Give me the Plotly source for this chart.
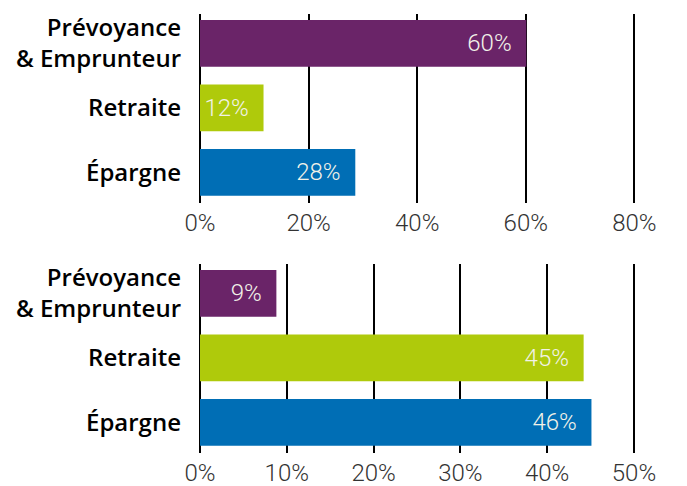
import plotly.graph_objects as go
from plotly.subplots import make_subplots

categories = ["Épargne", "Retraite", "Prévoyance<br>& Emprunteur"]
colors = ["#006EB5", "#AFCA0B", "#6A2468"]

top_values = [28.6, 11.7, 60.1]
top_labels = ["28%", "12%", "60%"]
top_ticks = [0, 20, 40, 60, 80]

bottom_values = [45.1, 44.2, 8.8]
bottom_labels = ["46%", "45%", "9%"]
bottom_ticks = [0, 10, 20, 30, 40, 50]

NB = "\u00a0\u00a0"

fig = make_subplots(rows=2, cols=1, vertical_spacing=0.0)

for row, vals, labs in [(1, top_values, top_labels), (2, bottom_values, bottom_labels)]:
    fig.add_trace(go.Bar(
        x=vals, y=categories, orientation="h",
        marker=dict(color=colors, line=dict(width=0)),
        text=[l + NB for l in labs],
        textposition="inside", insidetextanchor="end",
        textfont=dict(family="Roboto", size=24, color="#F2F2E8", weight=300),
        cliponaxis=False, hoverinfo="skip",
    ), row=row, col=1)

grid = dict(showgrid=True, gridcolor="#000000", gridwidth=2,
            zeroline=True, zerolinecolor="#000000", zerolinewidth=2,
            showline=False, ticks="",
            tickfont=dict(family="Roboto", size=24, color="#333333", weight=300),
            ticklabelstandoff=3)

ytick = dict(showgrid=False, zeroline=False, ticks="", ticklabelstandoff=18,
             categoryorder="array", categoryarray=categories,
             range=[-0.476, 2.456],
             tickfont=dict(family="Open Sans", size=24, color="#000000", weight=600))

# page body adds an 8px offset, so the figure is sized to fit the window
fig.update_layout(
    width=679, height=478,
    margin=dict(l=192, r=42, t=6, b=33, autoexpand=False),
    paper_bgcolor="white", plot_bgcolor="white",
    showlegend=False, bargap=0.274,
    uniformtext=dict(minsize=24, mode="show"),
    font=dict(family="Roboto"),
    xaxis=dict(range=[0, 81.95], tickvals=top_ticks, ticktext=[f"{v}%" for v in top_ticks],
               domain=[0, 1], anchor="y", **grid),
    xaxis2=dict(range=[0, 51.27], tickvals=bottom_ticks, ticktext=[f"{v}%" for v in bottom_ticks],
                domain=[0, 1], anchor="y2", **grid),
    yaxis=dict(domain=[0.5695, 1.0], **ytick),
    yaxis2=dict(domain=[0.0, 0.4305], **ytick),
)

fig.write_html("out.html")
